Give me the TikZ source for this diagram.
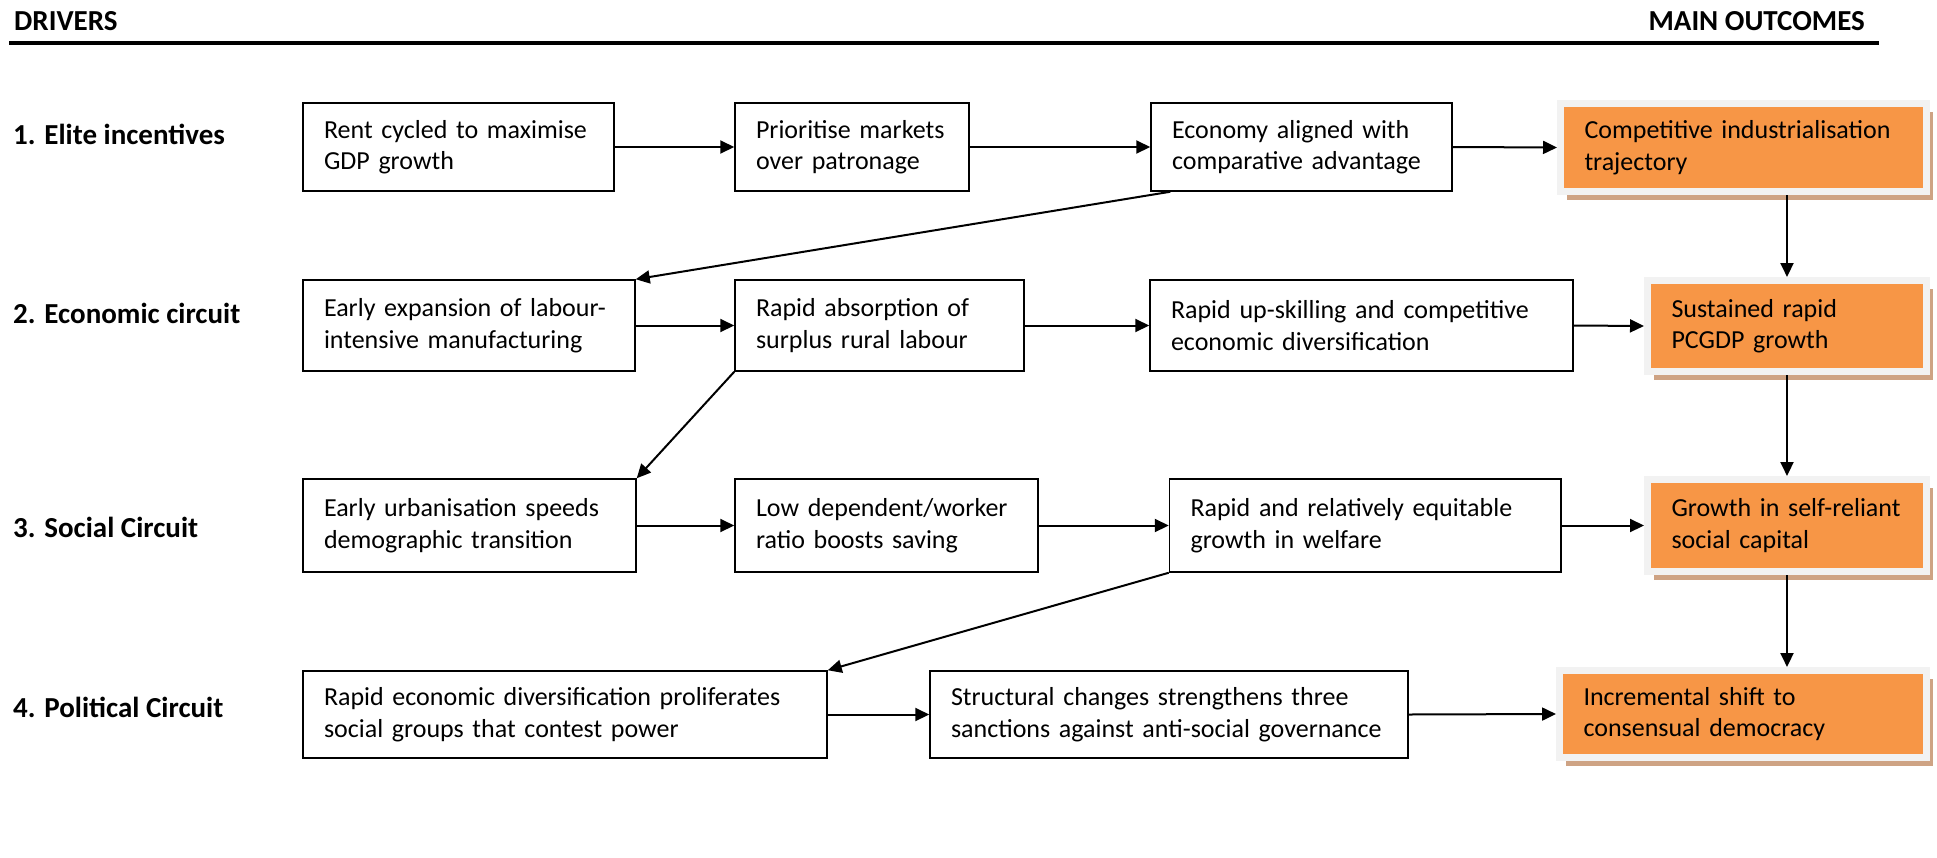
\documentclass[tikz,border=0pt]{standalone}
\usepackage{fontspec}
\setmainfont{Carlito}
\usetikzlibrary{arrows.meta, shadows}
\definecolor{outorange}{HTML}{F79646}
\definecolor{outgrey}{HTML}{F2F2F2}
\definecolor{outtan}{RGB}{206,163,132}

\begin{document}
\begin{tikzpicture}[x=1pt, y=-1pt,
  box/.style={draw=black, line width=1.5pt, inner xsep=0pt, inner ysep=0pt, align=left,
    font=\fontsize{26}{31.5}\selectfont, execute at begin node={\leftskip=21pt}},
  outcome/.style={box, draw=outgrey, line width=7pt, fill=outorange,
    execute at begin node={\leftskip=24pt},
    drop shadow={shadow xshift=6.5pt, shadow yshift=-8.5pt, fill=outtan, opacity=1}},
  driver/.style={anchor=base west, inner sep=0pt, font=\fontsize{29}{34}\selectfont\bfseries},
  link/.style={line width=2pt, -{Triangle[length=14pt, width=13pt]}}]
  \useasboundingbox (0,0) rectangle (1937,857);
  % header
  \node[driver] (hdrL) at (14,30) {DRIVERS};
  \node[driver, anchor=base east] (hdrR) at (1865,30) {MAIN OUTCOMES};
  \draw[line width=4pt] (9,42.7) -- (1879,42.7);
  % row labels
  \node[driver] (lab1) at (13,144)   {1. Elite incentives};
  \node[driver] (lab2) at (13,323.3) {2. Economic circuit};
  \node[driver] (lab3) at (13,537.3) {3. Social Circuit};
  \node[driver] (lab4) at (13,717.3) {4. Political Circuit};
  % row 1
  \node[box, text width=311pt, minimum height=88pt] (B11) at (458.5,147) {Rent cycled to maximise\\GDP growth};
  \node[box, text width=234pt, minimum height=88pt] (B12) at (852,147) {Prioritise markets\\over patronage};
  \node[box, text width=301pt, minimum height=88pt] (B13) at (1301.5,147) {Economy aligned with\\comparative advantage};
  \node[outcome, text width=366pt, minimum height=88pt] (O1) at (1743.5,147.5) {Competitive industrialisation\\trajectory};
  % row 2
  \node[box, text width=332pt, minimum height=91pt] (B21) at (469,325.5) {Early expansion of labour-\\intensive manufacturing};
  \node[box, text width=289pt, minimum height=91pt] (B22) at (879.5,325.5) {Rapid absorption of\\surplus rural labour};
  \node[box, text width=423pt, minimum height=91pt] (B23) at (1361.5,325.5) {Rapid up-skilling and competitive\\economic diversification};
  \node[outcome, text width=279pt, minimum height=91pt] (O2) at (1787,326) {Sustained rapid\\PCGDP growth};
  % row 3
  \node[box, text width=333pt, minimum height=93pt] (B31) at (469.5,525.5) {Early urbanisation speeds\\demographic transition};
  \node[box, text width=303pt, minimum height=93pt] (B32) at (886.5,525.5) {Low dependent/worker\\ratio boosts saving};
  \node[box, text width=391.5pt, minimum height=93pt] (B33) at (1365.25,525.5) {Rapid and relatively equitable\\growth in welfare};
  \node[outcome, text width=279pt, minimum height=92pt] (O3) at (1787,525.5) {Growth in self-reliant\\social capital};
  % row 4
  \node[box, text width=524pt, minimum height=87pt] (B41) at (565,714.5) {Rapid economic diversification proliferates\\social groups that contest power};
  \node[box, text width=478pt, minimum height=87pt] (B42) at (1169,714.5) {Structural changes strengthens three\\sanctions against anti-social governance};
  \node[outcome, text width=367pt, minimum height=87pt] (O4) at (1743,714) {Incremental shift to\\consensual democracy};
  % links along the rows
  \foreach \a/\b in {B11/B12, B12/B13, B13/O1,
                     B21/B22, B22/B23, B23/O2,
                     B31/B32, B32/B33, B33/O3,
                     B41/B42, B42/O4}
    \draw[link] (\a.east) -- (\b.west);
  % links between rows
  \draw[link] ([xshift=20pt]B13.south west) -- (B21.north east);
  \draw[link] (B22.south west) -- (B31.north east);
  \draw[link] (B33.south west) -- (B41.north east);
  % outcomes
  \draw[link] (O2.north |- O1.south) -- (O2.north);
  \draw[link] (O2.south) -- (O3.north);
  \draw[link] (O3.south) -- (O3.south |- O4.north);
\end{tikzpicture}
\end{document}
